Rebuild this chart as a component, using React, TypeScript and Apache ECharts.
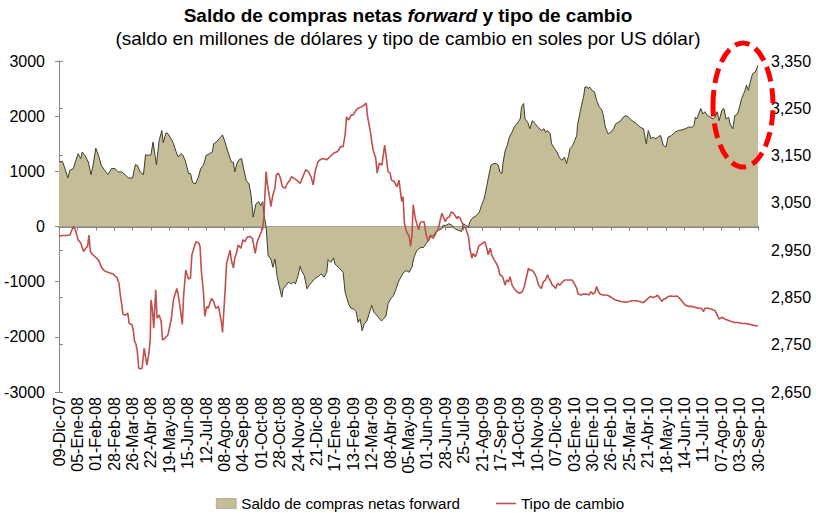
import React, { useEffect, useRef } from "react";
import * as echarts from "echarts";

// Category tick labels (every 27 days, starting 09-Dic-07)
const tickLabels = [
  "09-Dic-07", "05-Ene-08", "01-Feb-08", "28-Feb-08", "26-Mar-08", "22-Abr-08", "19-May-08",
  "15-Jun-08", "12-Jul-08", "08-Ago-08", "04-Sep-08", "01-Oct-08", "28-Oct-08", "24-Nov-08",
  "21-Dic-08", "17-Ene-09", "13-Feb-09", "12-Mar-09", "08-Abr-09", "05-May-09", "01-Jun-09",
  "28-Jun-09", "25-Jul-09", "21-Ago-09", "17-Sep-09", "14-Oct-09", "10-Nov-09", "07-Dic-09",
  "03-Ene-10", "30-Ene-10", "26-Feb-10", "25-Mar-10", "21-Abr-10", "18-May-10", "14-Jun-10",
  "11-Jul-10", "07-Ago-10", "03-Sep-10", "30-Sep-10",
];
const DAYS_PER_TICK = 27;

// Saldo de compras netas forward (millones US$), day offset from 09-Dic-07
const saldoDays = [
  0, 5, 8, 13, 16, 21, 24, 28, 32, 34, 38, 43, 47, 50, 54, 58, 62, 67, 72, 77, 82, 87, 92, 97, 102,
  108, 112, 115, 119, 124, 127, 131, 135, 138, 141, 143, 147, 151, 153, 157, 160, 166,
  168, 172, 175, 179, 182, 186, 190, 193, 196, 200, 204, 208, 212, 216, 221, 225, 227, 231, 235,
  240, 244, 248, 253, 256, 258, 261, 265, 268, 272, 275, 279, 282, 285, 289, 293, 296, 299, 301,
  304, 307, 311, 314, 317, 320, 323, 327, 329, 333,
  337, 341, 344, 347, 351, 354, 356, 360, 364, 367, 371, 376, 381, 385, 389, 393, 395, 399, 403,
  405, 410, 415, 417, 420, 422, 425, 429, 432, 436, 439, 442, 445, 448, 452, 455, 459, 462, 465,
  469, 473, 476, 480, 483, 487, 491, 494, 498,
  503, 506, 510, 514, 518, 521, 525, 528, 531, 535, 539, 542, 546, 550, 553, 557, 562, 564, 568,
  572, 576, 581, 586, 591, 594, 597, 601, 603, 606, 609, 613, 617, 620, 624, 627, 630, 634, 638,
  642, 645, 647, 650, 652, 655, 658, 661, 665, 668, 672,
  677, 679, 682, 684, 688, 691, 695, 699, 703, 708, 712, 714, 717, 721, 723, 727, 731, 734, 738,
  742, 745, 748, 750, 754, 757, 760, 761, 765, 767, 770, 772, 775, 777, 779, 782, 786, 789, 793,
  797, 799, 802, 806, 810, 814, 817, 821, 825, 828, 832, 836, 841,
  848, 853, 858, 862, 865, 869, 872, 876, 880, 883, 887, 891, 894, 899, 904, 909, 914, 919, 924,
  929, 932, 934, 936, 939, 942, 945, 948, 952, 956, 960, 963, 966, 969, 973, 976, 979, 983, 985,
  989, 992, 996, 999, 1002, 1005, 1007, 1009, 1012, 1014, 1018, 1022, 1024, 1026,
];
const saldoValues = [
  1170, 1180, 1080, 880, 1020, 1050, 1170, 1320, 1230, 1350, 1290, 1170, 940, 1110, 1420, 1290,
  1110, 1020, 940, 1050, 1050, 990, 990, 940, 880, 880, 1120, 1110, 990, 940, 1300, 1290, 1300,
  1530, 1290, 1120, 1560, 1740, 1520, 1700, 1680, 1560,
  1500, 1350, 1260, 1320, 1290, 1170, 960, 960, 800, 770, 870, 1050, 1110, 1290, 1320, 1350, 1500,
  1530, 1590, 1660, 1520, 1350, 1170, 1160, 990, 1140, 1220, 1230, 990, 830, 770, 560, 170, 410,
  450, 380, 450, 200, 0, -530, -590, -740, -590, -890, -1070, -1280, -1130, -1070,
  -1010, -1040, -1010, -1040, -890, -720, -800, -890, -1130, -1070, -1010, -940, -900, -860, -920,
  -830, -600, -650, -570, -680, -740, -800, -830, -1190, -1280, -1400, -1490, -1490, -1540, -1740,
  -1680, -1890, -1770, -1710, -1590, -1430, -1550, -1590, -1650, -1710, -1680, -1620, -1400, -1310,
  -1250, -1160, -1010,
  -890, -830, -800, -830, -740, -560, -440, -410, -380, -380, -310, -250, -190, -160, -100, -70,
  -40, 20, 20, 50, 30, -40, -70, -90, 50, 20, -10, 80, 140, 170, 200, 260, 380, 500, 680, 870,
  1110, 1140, 1140, 1110, 990, 960, 1170, 1380, 1470, 1620, 1710, 1800, 1860,
  1950, 2170, 2230, 1950, 1890, 1770, 1920, 1860, 1800, 1740, 1770, 1710, 1740, 1680, 1500, 1420,
  1350, 1260, 1200, 1260, 1140, 1290, 1410, 1470, 1560, 1650, 1830, 2080, 2200, 2350, 2530, 2530,
  2500, 2530, 2470, 2440, 2290, 2170, 2110, 2010, 1800, 1680, 1710, 1770, 1860, 1890, 1920, 1980,
  2010, 1980, 1920,
  1860, 1800, 1770, 1500, 1740, 1590, 1620, 1590, 1630, 1650, 1470, 1440, 1620, 1650, 1710, 1740,
  1750, 1770, 1800, 1800, 1830, 1980, 1950, 2040, 2140, 2040, 2080, 2010, 1980, 1950, 1980, 2080,
  1920, 2110, 2140, 1950, 1980, 1860, 1770, 2010, 2040, 2170, 2320, 2410, 2470, 2560, 2470, 2590,
  2770, 2800, 2860, 2920,
];

// Tipo de cambio (soles por US dólar), day offset from 09-Dic-07
const tipoDays = [
  0, 4, 11, 16, 21, 24, 28, 32, 36, 39, 42, 44, 46, 49, 53, 58, 63, 67, 72, 80, 85, 88, 90, 92, 94,
  98, 101, 103, 107, 109, 111, 113, 115, 117, 120, 122, 125, 127, 129, 132, 134, 135, 137, 139,
  142, 144, 147, 150, 152, 156, 160, 165, 168, 170,
  173, 175, 178, 181, 183, 186, 190, 193, 195, 198, 201, 205, 207, 209, 212, 214, 217, 219, 222,
  224, 227, 230, 234, 236, 239, 240, 244, 246, 248, 251, 253, 256, 258, 261, 263, 267, 270, 273,
  276, 280, 284, 288, 291, 295, 299, 301, 302, 304, 306, 309, 311, 314, 317, 319, 322, 325, 328,
  332, 335, 339,
  341, 344, 349, 354, 359, 362, 366, 370, 373, 376, 380, 383, 388, 393, 398, 403, 408, 411, 413,
  417, 420, 422, 425, 429, 432, 436, 439, 444, 448, 451, 453, 457, 459, 461, 465, 467, 470, 474,
  478, 480, 483, 486, 488, 492, 496, 499,
  503, 505, 507, 510, 514, 516, 518, 520, 523, 525, 528, 530, 532, 536, 539, 542, 545, 549, 552,
  554, 557, 559, 562, 564, 567, 569, 573, 576, 579, 581, 584, 586, 589, 591, 594, 597, 601, 603,
  606, 608, 611, 613, 616, 618, 622, 625, 628, 630, 633, 635, 639, 642, 645, 647, 651, 655, 657,
  660, 662, 665, 668, 672, 676,
  680, 683, 687, 689, 691, 694, 696, 699, 701, 704, 708, 711, 714, 717, 719, 722, 724, 727, 729,
  732, 735, 739, 743, 748, 753, 756, 760, 762, 766, 770, 775, 778, 781, 784, 787, 789, 792, 794,
  798, 802, 806, 811, 816, 821, 826, 831, 836, 841,
  848, 853, 858, 863, 868, 872, 876, 878, 882, 885, 887, 891, 894, 898, 902, 907, 911, 914, 919,
  924, 929, 934, 939, 943, 946, 948, 953, 958, 963, 966, 969, 973, 978, 983, 987, 992, 997, 1002,
  1007, 1012, 1017, 1022, 1026,
];
const tipoValues = [
  2979, 2981, 2981, 2982, 3000, 2993, 2972, 2965, 2947, 2954, 2958, 2982, 2947, 2941, 2936, 2929,
  2912, 2906, 2903, 2899, 2892, 2880, 2855, 2836, 2814, 2813, 2817, 2795, 2793, 2781, 2757, 2751,
  2736, 2700, 2699, 2700, 2743, 2725, 2707, 2732, 2764, 2845, 2827, 2785, 2866, 2806, 2813, 2799,
  2760, 2764, 2771, 2806, 2845, 2855,
  2869, 2855, 2827, 2793, 2855, 2908, 2889, 2891, 2940, 2954, 2968, 2965, 2958, 2905, 2862, 2810,
  2831, 2827, 2841, 2848, 2841, 2827, 2831, 2817, 2792, 2776, 2869, 2922, 2933, 2950, 2929, 2912,
  2933, 2947, 2961, 2954, 2972, 2968, 2977, 2979, 2975, 2943, 2968, 2982, 2996, 3024, 3060, 3116,
  3088, 3063, 3042, 3067, 3081, 3109, 3113, 3102, 3084, 3081, 3091, 3098,
  3105, 3103, 3098, 3091, 3109, 3120, 3116, 3105, 3088, 3116, 3137, 3141, 3144, 3141, 3148, 3155,
  3158, 3162, 3169, 3169, 3194, 3232, 3225, 3236, 3236, 3246, 3250, 3253, 3257, 3261, 3232, 3201,
  3180, 3162, 3144, 3113, 3134, 3130, 3172, 3151, 3116, 3113, 3098, 3095, 3084, 3098,
  3053, 3063, 3007, 2989, 2979, 2958, 2979, 3046, 3017, 3007, 2993, 3007, 3010, 3010, 2982, 2968,
  2982, 2975, 2982, 2989, 2996, 3010, 3028, 3021, 3010, 3017, 3021, 3031, 3028, 3024, 3017, 3021,
  3017, 3010, 3000, 2996, 2979, 2954, 2933, 2943, 2936, 2943, 2958, 2961, 2965, 2968, 2954, 2940,
  2954, 2940, 2929, 2922, 2912, 2898, 2894, 2876, 2887, 2883, 2894, 2876, 2869, 2862, 2859,
  2862, 2873, 2898, 2912, 2908, 2908, 2905, 2898, 2891, 2876, 2869, 2883, 2887, 2898, 2891, 2883,
  2876, 2873, 2869, 2880, 2876, 2883, 2887, 2887, 2887, 2880, 2869, 2857, 2855, 2857, 2857, 2855,
  2862, 2857, 2861, 2873, 2862, 2857, 2855, 2855, 2854, 2850, 2845, 2843, 2841, 2840, 2841, 2843,
  2843, 2841, 2839, 2846, 2852, 2850, 2852, 2855, 2848, 2841, 2846, 2848, 2852, 2853, 2852, 2853,
  2848, 2843, 2834, 2831, 2831, 2829, 2827, 2827, 2820, 2827, 2827, 2825, 2822, 2813, 2804, 2808,
  2804, 2801, 2799, 2797, 2797, 2795, 2795, 2794, 2792, 2790, 2790,
];

const leftTicks = { min: -3000, max: 3000, step: 1000 };
const rightTicks = { min: 2650, max: 3350, step: 100 };

const FONT = "'Liberation Sans', Arial, sans-serif";
const AREA_FILL = "#C4BD97";
const AREA_LINE = "#3d3d2d";
const RED = "#C0504D";
const AXIS_GRAY = "#868686";

const zip = (xs: number[], ys: number[]) => xs.map((x, i) => [x, ys[i]]);

export default function App() {
  const ref = useRef<HTMLDivElement>(null);

  useEffect(() => {
    if (!ref.current) return;
    const chart = echarts.init(ref.current, undefined, { renderer: "svg" });
    const maxDay = (tickLabels.length - 1) * DAYS_PER_TICK;

    chart.setOption({
      animation: false,
      backgroundColor: "#ffffff",
      title: {
        left: "center",
        top: 1,
        text: "{b|Saldo de compras netas }{bi|forward}{b| y tipo de cambio}",
        textStyle: {
          fontSize: 19,
          rich: {
            b: { fontFamily: FONT, fontSize: 19, fontWeight: "bold", color: "#000" },
            bi: { fontFamily: FONT, fontSize: 19, fontWeight: "bold", fontStyle: "italic", color: "#000" },
          },
        },
        subtext: "(saldo en millones de dólares y tipo de cambio en soles por US dólar)",
        subtextStyle: { fontFamily: FONT, fontSize: 19, color: "#000" },
        itemGap: 4,
      },
      legend: {
        left: 211,
        top: 491,
        itemWidth: 20,
        itemHeight: 10,
        itemGap: 36,
        textStyle: { fontFamily: FONT, fontSize: 15.2, color: "#000" },
        data: [
          {
            name: "Saldo de compras netas forward",
            icon: "rect",
            itemStyle: { color: AREA_FILL, borderColor: "#8a8a7a", borderWidth: 0.5 },
          },
          {
            name: "Tipo de cambio",
            icon: "path://M0,0 L20,0 L20,1.6 L0,1.6 Z",
            itemStyle: { color: RED },
          },
        ],
      },
      grid: { left: 59, right: 58, top: 61, bottom: 121, containLabel: false },
      xAxis: [
        {
          type: "value",
          min: 0,
          max: maxDay,
          interval: DAYS_PER_TICK,
          position: "bottom",
          axisLine: { show: false, onZero: false },
          axisTick: { show: false },
          splitLine: { show: false },
          axisLabel: {
            rotate: 90,
            margin: 5,
            fontFamily: FONT,
            fontSize: 16,
            color: "#000",
            formatter: (v: number) => tickLabels[Math.round(v / DAYS_PER_TICK)] ?? "",
          },
        },
        {
          type: "value",
          min: 0,
          max: maxDay,
          interval: DAYS_PER_TICK,
          position: "bottom",
          axisLine: { show: true, onZero: true, onZeroAxisIndex: 0, lineStyle: { color: AXIS_GRAY, width: 2 } },
          axisTick: { show: true, length: 4, lineStyle: { color: AXIS_GRAY, width: 1 } },
          axisLabel: { show: false },
          splitLine: { show: false },
        },
      ],
      yAxis: [
        {
          type: "value",
          position: "left",
          min: leftTicks.min,
          max: leftTicks.max,
          interval: leftTicks.step,
          axisLine: { show: true, lineStyle: { color: AXIS_GRAY, width: 1 } },
          axisTick: { show: true, length: 4, lineStyle: { color: AXIS_GRAY } },
          splitLine: { show: false },
          axisLabel: {
            fontFamily: FONT,
            fontSize: 16,
            color: "#000",
            margin: 14,
            formatter: (v: number) => String(v),
          },
        },
        {
          type: "value",
          position: "right",
          min: rightTicks.min,
          max: rightTicks.max,
          interval: rightTicks.step,
          axisLine: { show: true, lineStyle: { color: AXIS_GRAY, width: 1 } },
          axisTick: { show: true, length: 4, lineStyle: { color: AXIS_GRAY } },
          splitLine: { show: false },
          axisLabel: {
            fontFamily: FONT,
            fontSize: 16,
            color: "#000",
            margin: 13,
            formatter: (v: number) => v.toLocaleString("en-US"),
          },
        },
      ],
      series: [
        {
          name: "Saldo de compras netas forward",
          type: "line",
          xAxisIndex: 0,
          yAxisIndex: 0,
          data: zip(saldoDays, saldoValues),
          symbol: "none",
          lineStyle: { color: AREA_LINE, width: 1 },
          itemStyle: { color: AREA_FILL },
          areaStyle: { color: AREA_FILL, opacity: 1 },
          z: 2,
        },
        {
          name: "Tipo de cambio",
          type: "line",
          xAxisIndex: 0,
          yAxisIndex: 1,
          data: zip(tipoDays, tipoValues),
          symbol: "none",
          lineStyle: { color: RED, width: 1.6 },
          itemStyle: { color: RED },
          z: 3,
        },
      ],
      graphic: [
        {
          type: "ellipse",
          shape: { cx: 743, cy: 105, rx: 30, ry: 62 },
          style: { fill: "none", stroke: "#FF0000", lineWidth: 5, lineDash: [15, 7] },
          z: 100,
        },
      ],
    });

    return () => chart.dispose();
  }, []);

  return (
    <div
      ref={ref}
      style={{ position: "fixed", left: 0, top: 0, width: 816, height: 513, background: "#fff" }}
    />
  );
}
